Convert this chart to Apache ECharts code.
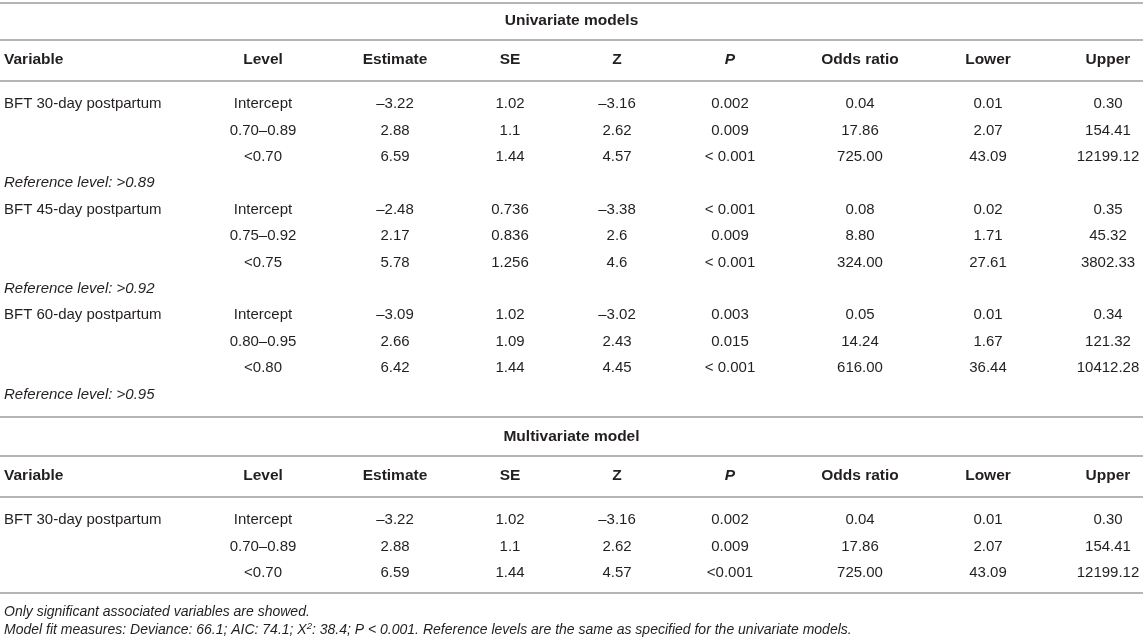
<!DOCTYPE html>
<html>
<head>
<meta charset="utf-8">
<script src="https://cdn.jsdelivr.net/npm/echarts@6/dist/echarts.min.js"></script>
<style>
  html, body { margin: 0; padding: 0; background: #fff; }
  #charts { width: 1143px; height: 641px; }
</style>
</head>
<body>
<div id="charts"></div>
<script>
// table content
var headers = ['Variable', 'Level', 'Estimate', 'SE', 'Z', 'P', 'Odds ratio', 'Lower', 'Upper'];
var uniTitle = 'Univariate models';
var multiTitle = 'Multivariate model';

var levels30 = ['Intercept', '0.70–0.89', '<0.70'];
var levels45 = ['Intercept', '0.75–0.92', '<0.75'];
var levels60 = ['Intercept', '0.80–0.95', '<0.80'];

// columns: Estimate, SE, Z, P, Odds ratio, Lower, Upper
var bft30 = [
  ['–3.22', '1.02', '–3.16', '0.002', '0.04', '0.01', '0.30'],
  ['2.88', '1.1', '2.62', '0.009', '17.86', '2.07', '154.41'],
  ['6.59', '1.44', '4.57', '< 0.001', '725.00', '43.09', '12199.12']
];
var bft45 = [
  ['–2.48', '0.736', '–3.38', '< 0.001', '0.08', '0.02', '0.35'],
  ['2.17', '0.836', '2.6', '0.009', '8.80', '1.71', '45.32'],
  ['5.78', '1.256', '4.6', '< 0.001', '324.00', '27.61', '3802.33']
];
var bft60 = [
  ['–3.09', '1.02', '–3.02', '0.003', '0.05', '0.01', '0.34'],
  ['2.66', '1.09', '2.43', '0.015', '14.24', '1.67', '121.32'],
  ['6.42', '1.44', '4.45', '< 0.001', '616.00', '36.44', '10412.28']
];
var multi30 = [
  ['–3.22', '1.02', '–3.16', '0.002', '0.04', '0.01', '0.30'],
  ['2.88', '1.1', '2.62', '0.009', '17.86', '2.07', '154.41'],
  ['6.59', '1.44', '4.57', '<0.001', '725.00', '43.09', '12199.12']
];

var uniGroups = [
  { name: 'BFT 30-day postpartum', levels: levels30, values: bft30, ref: 'Reference level: >0.89' },
  { name: 'BFT 45-day postpartum', levels: levels45, values: bft45, ref: 'Reference level: >0.92' },
  { name: 'BFT 60-day postpartum', levels: levels60, values: bft60, ref: 'Reference level: >0.95' }
];
var multiGroups = [
  { name: 'BFT 30-day postpartum', levels: levels30, values: multi30, ref: null }
];

var note1 = 'Only significant associated variables are showed.';
var note2 = 'Model fit measures: Deviance: 66.1; AIC: 74.1; X{s|2}: 38.4; P < 0.001. Reference levels are the same as specified for the univariate models.';

// layout
var W = 1143;
var colX = [4, 263, 395, 510, 617, 730, 860, 988, 1108];
var FAM = '"Liberation Sans", Arial, Helvetica, sans-serif';
var BODY = '15px ' + FAM;
var BOLD = 'bold 15.5px ' + FAM;
var INK = '#231f20';
var RULE = '#b5b5b5';
var rowStep = 26.4;

var elements = [];

function text(str, x, y, font, align) {
  elements.push({
    type: 'text',
    x: x, y: y,
    silent: true,
    style: {
      text: str, font: font, fill: INK,
      align: align, verticalAlign: 'middle',
      textAlign: align, textVerticalAlign: 'middle'
    }
  });
}

function rule(y) {
  elements.push({
    type: 'line', silent: true,
    shape: { x1: 0, y1: y, x2: W, y2: y },
    style: { stroke: RULE, lineWidth: 1.8 }
  });
}

function headerRow(y) {
  headers.forEach(function (h, i) {
    var f = h === 'P' ? 'italic ' + BOLD : BOLD;
    text(h, colX[i], y, f, i === 0 ? 'left' : 'center');
  });
}

function bodyRows(groups, y0) {
  var k = 0;
  groups.forEach(function (g) {
    g.levels.forEach(function (lv, j) {
      var y = y0 + k * rowStep;
      if (j === 0) text(g.name, colX[0], y, BODY, 'left');
      text(lv, colX[1], y, BODY, 'center');
      g.values[j].forEach(function (v, c) {
        text(v, colX[c + 2], y, BODY, 'center');
      });
      k++;
    });
    if (g.ref) {
      text(g.ref, colX[0], y0 + k * rowStep, 'italic ' + BODY, 'left');
      k++;
    }
  });
}

// univariate block
rule(3);
text(uniTitle, W / 2, 21, BOLD, 'center');
rule(40);
headerRow(60);
rule(81);
bodyRows(uniGroups, 104);

// multivariate block
rule(417);
text(multiTitle, W / 2, 437, BOLD, 'center');
rule(456);
headerRow(476);
rule(497);
bodyRows(multiGroups, 520);
rule(593);

// footnotes
text(note1, colX[0], 612, 'italic 14px ' + FAM, 'left');
elements.push({
  type: 'text', x: colX[0], y: 630, silent: true,
  style: {
    text: note2, font: 'italic 14px ' + FAM, fill: INK,
    align: 'left', verticalAlign: 'middle',
    textAlign: 'left', textVerticalAlign: 'middle',
    lineHeight: 17,
    rich: {
      s: { font: 'italic 9.5px ' + FAM, fill: INK, verticalAlign: 'top', lineHeight: 9 }
    }
  }
});

var myChart = echarts.init(document.getElementById('charts'));
myChart.setOption({
  backgroundColor: '#fff',
  animation: false,
  graphic: { elements: elements }
});
</script>
</body>
</html>
